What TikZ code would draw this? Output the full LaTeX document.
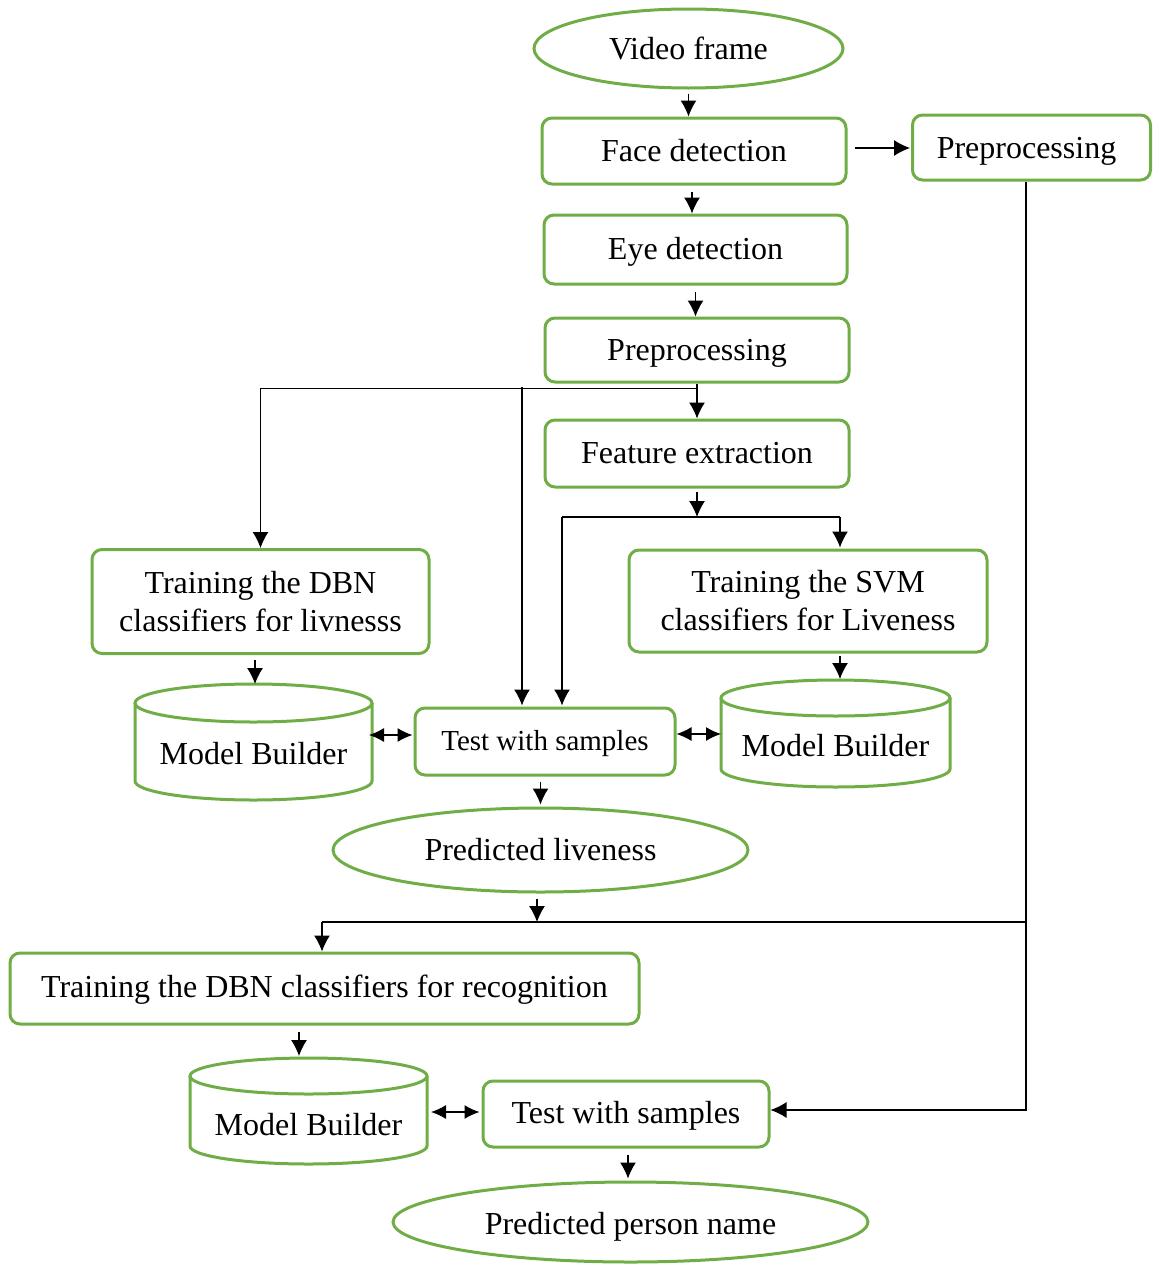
\documentclass[tikz,border=0pt]{standalone}
\usepackage{fontspec}
\setmainfont{Liberation Serif}
\usetikzlibrary{shapes.geometric,arrows.meta,calc}
\definecolor{grn}{RGB}{112,173,71}
\newcommand\fsz{\fontsize{16pt}{19pt}\selectfont}
% #1 = distance of the baseline below the node centre
\newcommand\tx[2]{\raisebox{0pt}[\dimexpr 3pt+#1*2\relax][3pt]{#2}}
\tikzset{
  box/.style={draw=grn,line width=1.5pt,rounded corners=5pt,inner sep=0pt,align=center,font=\fsz},
  oval/.style={ellipse,draw=grn,line width=1.5pt,inner sep=0pt,font=\fsz},
  cylnode/.style={draw=none,inner sep=0pt,outer sep=0pt},
  cylline/.style={draw=grn,line width=1.5pt},
  conn/.style={line width=0.6pt},
  arr/.style={conn,-{Latex[length=8pt,width=8pt]}},
  darr/.style={conn,{Latex[length=7.5pt,width=7pt]}-{Latex[length=7.5pt,width=7pt]}}
}
\begin{document}
\begin{tikzpicture}[x=0.5pt,y=-0.5pt]
\useasboundingbox (0,0) rectangle (1152,1264);
% nodes
\node[oval,minimum width=154.5pt,minimum height=39.5pt] (vf) at (688.5,48.5) {\tx{5.5pt}{Video frame}};
\node[box,minimum width=152pt,minimum height=33pt] (fd) at (694,151) {\tx{5.25pt}{Face detection}};
\node[box,minimum width=119pt,minimum height=32.5pt] (ppr) at (1031.5,147.5) {\tx{5.25pt}{Preprocessing\kern5pt}};
\node[box,minimum width=151.5pt,minimum height=34.5pt] (ed) at (695.5,249.5) {\tx{4.75pt}{Eye detection}};
\node[box,minimum width=152pt,minimum height=32pt] (pp) at (697,350) {\tx{5pt}{Preprocessing}};
\node[box,minimum width=152pt,minimum height=33.5pt] (fe) at (697,453.5) {\tx{5pt}{Feature extraction}};
\node[box,minimum width=168.5pt,minimum height=52pt,yshift=-0.75pt] (dbn) at (260.5,600) {Training the DBN\\classifiers for livnesss};
\node[box,minimum width=179pt,minimum height=51pt] (svm) at (808,601) {Training the SVM\\classifiers for Liveness};
\node[box,minimum width=130pt,minimum height=33.5pt,font=\fontsize{14.5pt}{17pt}\selectfont] (tm) at (545,741.5) {\tx{4.5pt}{Test with samples}};
\node[oval,minimum width=207.5pt,minimum height=42pt] (pl) at (540.5,850) {\tx{5.25pt}{Predicted liveness}};
\node[box,minimum width=314.5pt,minimum height=35.5pt] (trr) at (324.5,988.5) {\tx{4.5pt}{Training the DBN classifiers for recognition}};
\node[box,minimum width=143pt,minimum height=33pt] (tsb) at (626,1114) {\tx{4.75pt}{Test with samples}};
\node[oval,minimum width=237.5pt,minimum height=40pt] (pn) at (630.5,1222) {\tx{6.25pt}{Predicted person name}};
% cylinders
\node[cylnode,minimum width=118.5pt,minimum height=58pt,label={[font=\fsz,yshift=-6pt]center:Model Builder}] (mbl) at (253.5,742) {};
\draw[cylline] ([yshift=-9.5pt]mbl.north west) -- ([yshift=9.5pt]mbl.south west) arc[start angle=180,end angle=360,x radius=59.25pt,y radius=9.5pt] -- ([yshift=-9.5pt]mbl.north east);
\draw[cylline] ([yshift=-9.5pt]mbl.north) ellipse[x radius=59.25pt,y radius=9.5pt];
\node[cylnode,minimum width=114.5pt,minimum height=53.5pt,label={[font=\fsz,yshift=-6pt]center:Model Builder}] (mbr) at (835.5,733.5) {};
\draw[cylline] ([yshift=-9pt]mbr.north west) -- ([yshift=9pt]mbr.south west) arc[start angle=180,end angle=360,x radius=57.25pt,y radius=9pt] -- ([yshift=-9pt]mbr.north east);
\draw[cylline] ([yshift=-9pt]mbr.north) ellipse[x radius=57.25pt,y radius=9pt];
\node[cylnode,minimum width=118.5pt,minimum height=53pt,label={[font=\fsz,yshift=-7pt]center:Model Builder}] (mbb) at (308.5,1111) {};
\draw[cylline] ([yshift=-9pt]mbb.north west) -- ([yshift=9pt]mbb.south west) arc[start angle=180,end angle=360,x radius=59.25pt,y radius=9pt] -- ([yshift=-9pt]mbb.north east);
\draw[cylline] ([yshift=-9pt]mbb.north) ellipse[x radius=59.25pt,y radius=9pt];
% junction coordinates
\coordinate (j1) at (522,387);
\coordinate (j2) at (697,517);
\coordinate (j3) at (840,517);
\coordinate (j4) at (562,517);
\coordinate (j5) at (537,922);
\coordinate (j6) at (1026,1110);
\coordinate (j7) at (1026,922);
\coordinate (j8) at (322,922);
% connectors
\draw[arr] ($(vf.south)+(0,4)$) -- (vf.south |- fd.north);
\draw[arr] ($(fd.south)+(-2,6)$) -- ($(fd.south |- ed.north)+(-2,0)$);
\draw[arr] ($(ed.south)+(0,6)$) -- (ed.south |- pp.north);
\draw[arr] ($(fd.east)+(7,-3)$) -- ($(fd.east -| ppr.west)+(-1,-3)$);
\draw[arr] (pp.south) -- (fe.north);
\draw[arr] ($(pp.south)+(0,5)$) -| (dbn.north);
\draw[arr] (j1) -- ($(j1 |- tm.north)+(0,-1)$);
\draw[arr] ($(fe.south)+(0,3)$) -- (j2);
\draw[conn] (j4) -- (j3);
\draw[arr] (j3) -- ($(j3 |- svm.north)+(0,-1)$);
\draw[arr] (j4) -- ($(j4 |- tm.north)+(0,-1)$);
\draw[arr] ($(mbl.north |- dbn.south)+(1.5,5)$) -- ($(mbl.north)+(1.5,0)$);
\draw[arr] ($(mbr.north |- svm.south)+(4.5,2)$) -- ($(mbr.north)+(4.5,-1)$);
\draw[darr] ($(mbl.east)+(-3,-7)$) -- ($(tm.west)+(-1,-6.5)$);
\draw[darr] ($(tm.east)+(0,-7.5)$) -- ($(mbr.west)+(0,0.5)$);
\draw[arr] ($(pl.north |- tm.south)+(0,5)$) -- ($(pl.north)+(0,-2)$);
\draw[arr] ($(j5 |- pl.south)+(0,5)$) -- (j5);
\draw[arr] (j6 |- ppr.south) -- (j6) -- (j6 -| tsb.east);
\draw[conn] (j7) -- (j8);
\draw[arr] (j8) -- (j8 |- trr.north);
\draw[arr] ($(mbb.north |- trr.south)+(-9.5,6)$) -- ($(mbb.north)+(-9.5,-2)$);
\draw[darr] ($(mbb.east)+(4,1)$) -- ($(tsb.west)+(-2,-2)$);
\draw[arr] ($(pn.north |- tsb.south)+(-2.5,6)$) -- ($(pn.north)+(-2.5,-2)$);
\end{tikzpicture}
\end{document}
